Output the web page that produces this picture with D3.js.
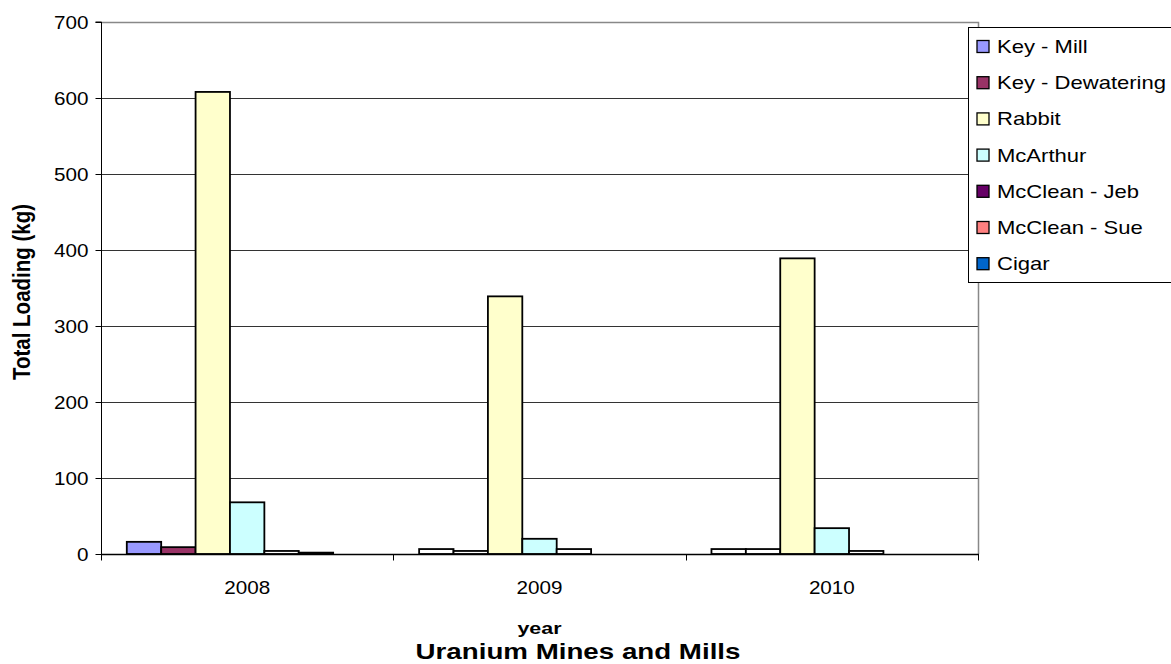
<!DOCTYPE html>
<html>
<head>
<meta charset="utf-8">
<script src="https://cdn.jsdelivr.net/npm/d3@7"></script>
<style>
  html, body { margin: 0; padding: 0; background: #fff; }
  svg { display: block; font-family: "Liberation Sans", Arial, sans-serif; }
</style>
</head>
<body>
<svg id="chart" width="1171" height="664"></svg>
<script>
// Total loading (kg) by year for each uranium mine / mill
const years = ["2008", "2009", "2010"];
const sites = ["Key - Mill", "Key - Dewatering", "Rabbit", "McArthur", "McClean - Jeb", "McClean - Sue", "Cigar"];
const keyMill       = [16, 6.5, 6.5];
const keyDewatering = [9, 4, 6.5];
const rabbit        = [608, 339, 389];
const mcArthur      = [68, 20, 34];
const mcCleanJeb    = [4, 6.5, 4];
const mcCleanSue    = [1.8, 0, 0];
const cigar         = [0, 0, 0];
const yTicks = [0, 100, 200, 300, 400, 500, 600, 700];

const seriesValues = [keyMill, keyDewatering, rabbit, mcArthur, mcCleanJeb, mcCleanSue, cigar];
const seriesColors = ["#9999FF", "#993366", "#FFFFCC", "#CCFFFF", "#660066", "#FF8080", "#0066CC"];
// individual points drawn with a plain white fill: [yearIndex, seriesIndex]
const plainPoints = [[0, 4], [1, 0], [1, 1], [1, 4], [2, 0], [2, 1], [2, 4]];
const isPlain = (yi, si) => plainPoints.some(p => p[0] === yi && p[1] === si);

// text in this chart is set slightly wide
const SX = 1.26;
const FS = 17.5;

const svg = d3.select("#chart");
const plot = { left: 101, right: 978, top: 22, bottom: 554 };

const x0 = d3.scaleBand().domain(years).range([plot.left, plot.right]).paddingInner(0).paddingOuter(0);
// 7 bars plus a gap of 1.5 bar widths in each category
const barW = x0.bandwidth() / 8.5;
const x1 = d3.scaleBand().domain(sites)
  .range([barW * 0.75, barW * 0.75 + barW * sites.length]).padding(0);
const y = d3.scaleLinear().domain([0, 700]).range([plot.bottom, plot.top]);

// writes a wide text label anchored at (x, y)
function wideText(parent, x, yPos, str, opts = {}) {
  return parent.append("text")
    .attr("transform", `translate(${x},${yPos}) scale(${opts.sx || SX},1)` + (opts.rotate ? ` rotate(${opts.rotate})` : ""))
    .attr("text-anchor", opts.anchor || "start")
    .attr("font-size", opts.size || FS)
    .attr("font-weight", opts.weight || "normal")
    .attr("fill", "#000")
    .text(str);
}

// gridlines
svg.append("g").selectAll("line").data(yTicks.filter(t => t > 0 && t < 700)).join("line")
  .attr("x1", plot.left).attr("x2", plot.right)
  .attr("y1", d => Math.round(y(d)) + 0.5).attr("y2", d => Math.round(y(d)) + 0.5)
  .attr("stroke", "#333").attr("stroke-width", 1);

// plot frame (top and right)
svg.append("path")
  .attr("d", `M${plot.left},${plot.top + 0.5}H${plot.right + 0.5}V${plot.bottom}`)
  .attr("fill", "none").attr("stroke", "#888").attr("stroke-width", 1.5);

// bars
const rows = [];
years.forEach((yr, yi) => sites.forEach((s, si) => rows.push({ yr, yi, s, si, v: seriesValues[si][yi] })));
svg.append("g").selectAll("rect").data(rows.filter(d => d.v > 0)).join("rect")
  .attr("x", d => x0(d.yr) + x1(d.s))
  .attr("y", d => y(d.v))
  .attr("width", x1.bandwidth())
  .attr("height", d => y(0) - y(d.v))
  .attr("fill", d => isPlain(d.yi, d.si) ? "#fff" : seriesColors[d.si])
  .attr("stroke", "#000").attr("stroke-width", 1.8);

// y axis
const yAxis = d3.axisLeft(y).tickValues(yTicks).tickSize(6).tickFormat("");
const gy = svg.append("g").attr("transform", `translate(${plot.left + 0.5},0)`).call(yAxis);
gy.select(".domain").attr("stroke", "#000").attr("d", `M-6,${plot.top}H0V${plot.bottom}`);
gy.selectAll(".tick line").attr("stroke", "#000");
gy.selectAll(".tick").each(function (d) {
  wideText(d3.select(this), -13, 6, d3.format("d")(d), { anchor: "end", sx: 1.18 });
});

// x axis
const gx = svg.append("g").attr("transform", `translate(0,${plot.bottom + 0.5})`);
gx.append("line").attr("x1", plot.left).attr("x2", plot.right + 1)
  .attr("stroke", "#000").attr("stroke-width", 1.5);
gx.selectAll("line.tick").data(years.map(yr => x0(yr)).concat([plot.right])).join("line")
  .attr("class", "tick")
  .attr("x1", d => Math.round(d) + 0.5).attr("x2", d => Math.round(d) + 0.5)
  .attr("y1", 0).attr("y2", 6).attr("stroke", "#000");
years.forEach(yr => wideText(gx, x0(yr) + x0.bandwidth() / 2, 39, yr, { anchor: "middle", sx: 1.18 }));

// axis titles
wideText(svg, 30, 292, "Total Loading (kg)", { anchor: "middle", weight: "bold", size: 20.5, rotate: -90, sx: 1.15 });
wideText(svg, x0("2009") + x0.bandwidth() / 2, 634, "year", { anchor: "middle", weight: "bold", size: 17 });
wideText(svg, 578, 659, "Uranium Mines and Mills", { anchor: "middle", weight: "bold", size: 22 });

// legend
const lg = svg.append("g");
lg.append("rect").attr("x", 968.5).attr("y", 27.5).attr("width", 210).attr("height", 255)
  .attr("fill", "#fff").attr("stroke", "#000").attr("stroke-width", 1);
sites.forEach((s, i) => {
  const cy = 46.5 + i * 36.2;
  lg.append("rect").attr("x", 977).attr("y", cy - 6).attr("width", 12).attr("height", 12)
    .attr("fill", seriesColors[i]).attr("stroke", "#000").attr("stroke-width", 1.3);
  wideText(lg, 997, cy + 6.5, s);
});
</script>
</body>
</html>
